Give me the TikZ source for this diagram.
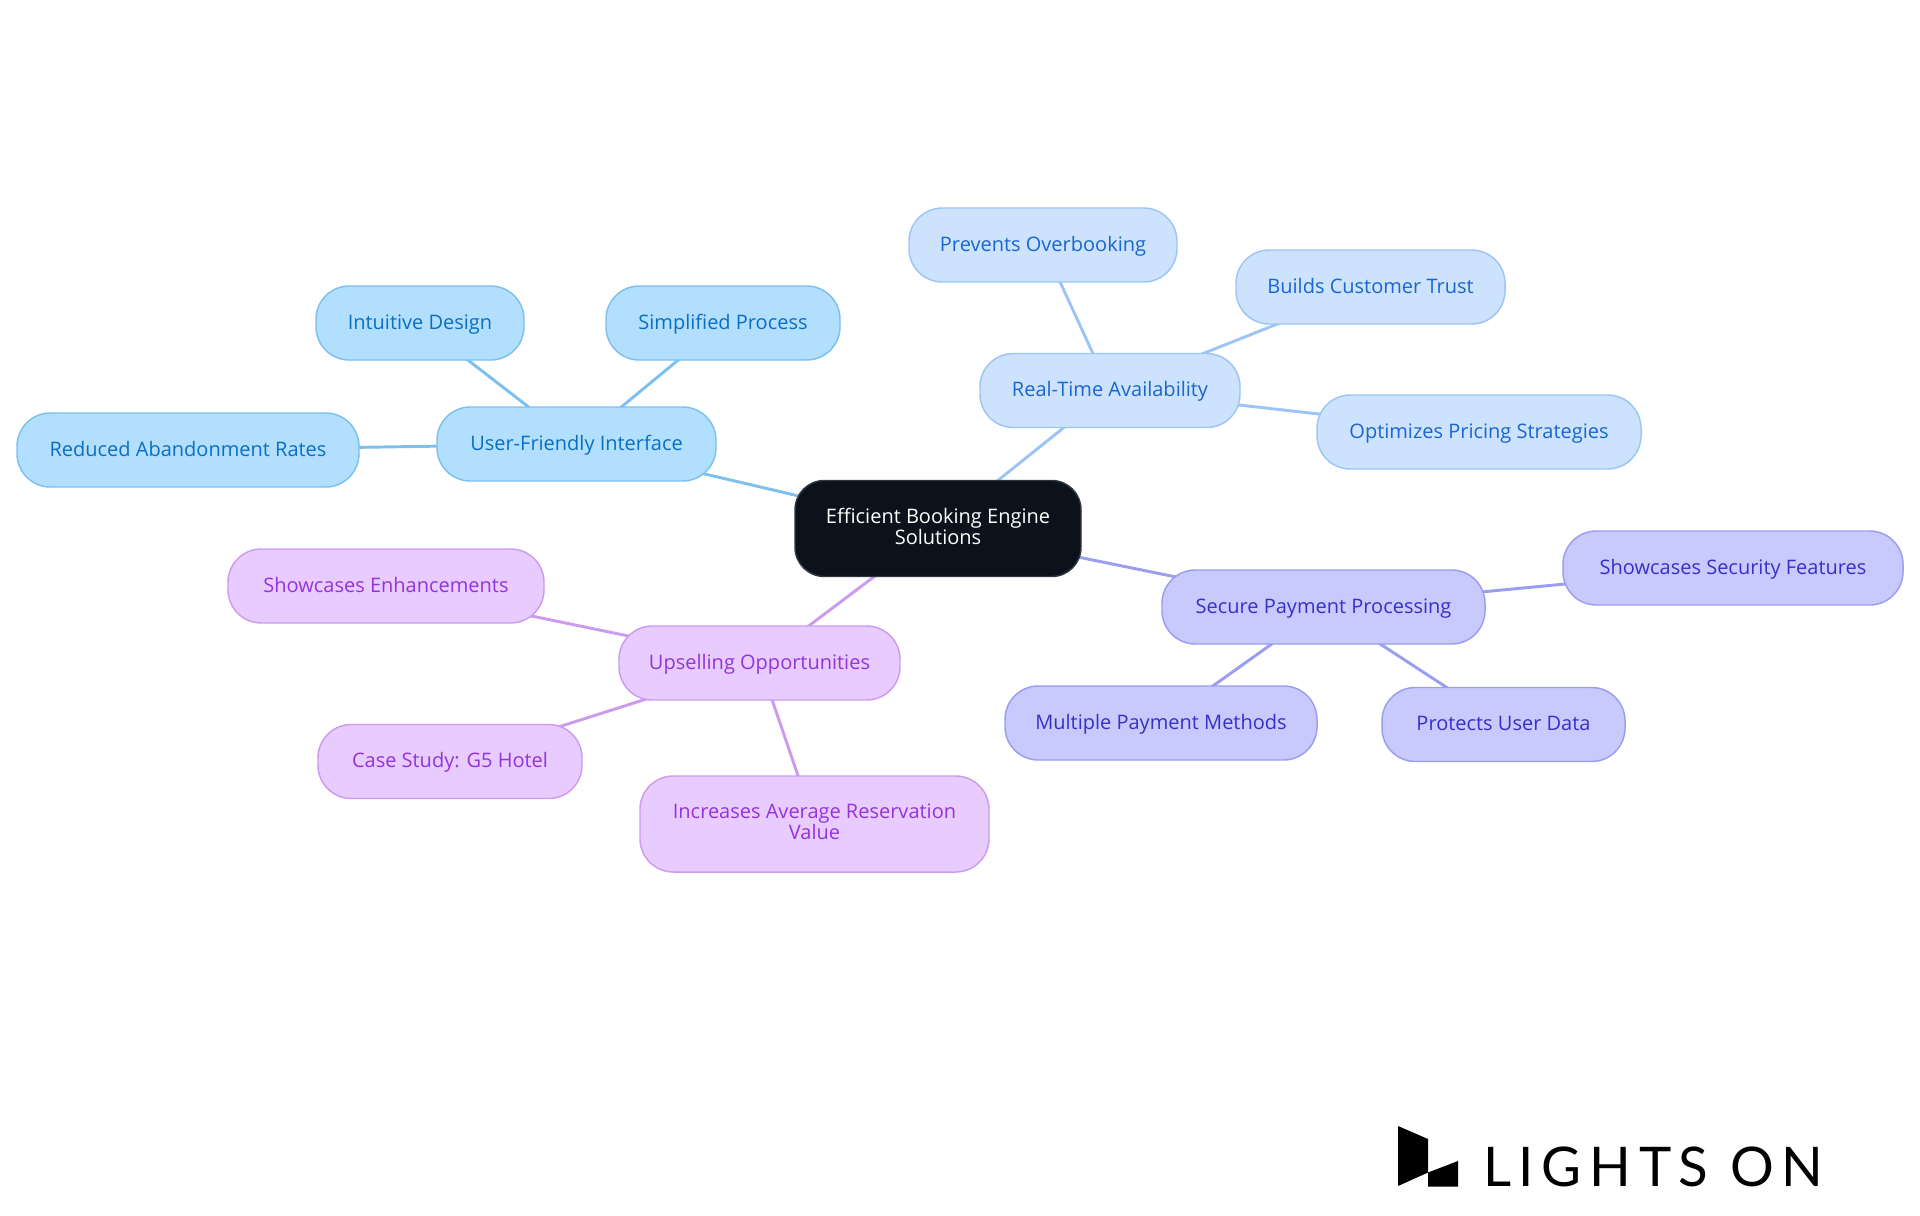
\documentclass[tikz,border=0pt]{standalone}
\usepackage{fontspec}
\usetikzlibrary{backgrounds}
\setmainfont{Open Sans}
\newfontfamily\logofont[LetterSpace=14]{Lato}
\definecolor{skyfill}{HTML}{B3DFFF}\definecolor{skyline}{HTML}{7CC0F0}\definecolor{skytext}{HTML}{0A6FC2}
\definecolor{bluefill}{HTML}{CDE3FD}\definecolor{blueline}{HTML}{9CC5F5}\definecolor{bluetext}{HTML}{1A66D0}
\definecolor{indfill}{HTML}{C8CAFE}\definecolor{indline}{HTML}{9A9DF2}\definecolor{indtext}{HTML}{3730C8}
\definecolor{purfill}{HTML}{E8CCFF}\definecolor{purline}{HTML}{CC9BF0}\definecolor{purtext}{HTML}{9333DD}
\definecolor{rootfill}{HTML}{0B121B}
\tikzset{
  box/.style={rounded corners=25pt,inner sep=0pt,outer sep=0pt,line width=1.1pt,align=center,
    font=\fontsize{15pt}{15.75pt}\selectfont,minimum height=55.5pt,text height=12.2pt,text depth=2.8pt},
  twolines/.style={minimum height=72pt,text height=,text depth=3.6pt},
  rootbox/.style={box,twolines,rounded corners=22pt,fill=rootfill,draw=rootfill!85!white,text=white},
  skybox/.style={box,fill=skyfill,draw=skyline,text=skytext},
  bluebox/.style={box,fill=bluefill,draw=blueline,text=bluetext},
  indbox/.style={box,fill=indfill,draw=indline,text=indtext},
  purbox/.style={box,fill=purfill,draw=purline,text=purtext},
  edge/.style={line width=2.2pt},
  w/.style={minimum width=#1*0.75pt},
}
\begin{document}
\begin{tikzpicture}[x=0.75pt,y=-0.75pt]
\useasboundingbox (0,0) rectangle (1920,1215);
\node[rootbox,w=286] (root) at (938,528.5) {Efficient Booking Engine\\Solutions};
\node[skybox,w=279] (uf) at (576.5,444) {User-Friendly Interface};
\node[skybox,w=208] (intu) at (420,323) {Intuitive Design};
\node[skybox,w=234] (simp) at (723,323) {Simplified Process};
\node[skybox,w=342] (redu) at (188,450) {Reduced Abandonment Rates};
\node[bluebox,w=260] (real) at (1110,390.5) {Real-Time Availability};
\node[bluebox,w=268] (prev) at (1043,245) {Prevents Overbooking};
\node[bluebox,w=269] (buil) at (1370.5,287) {Builds Customer Trust};
\node[bluebox,w=324] (opti) at (1479,432) {Optimizes Pricing Strategies};
\node[indbox,w=323] (secu) at (1323.5,607) {Secure Payment Processing};
\node[indbox,w=340] (shos) at (1733,568) {Showcases Security Features};
\node[indbox,w=312] (mult) at (1161,723) {Multiple Payment Methods};
\node[indbox,w=243] (prot) at (1503.5,724.5) {Protects User Data};
\node[purbox,w=281] (upse) at (759.5,663) {Upselling Opportunities};
\node[purbox,w=316] (shoe) at (386,586) {Showcases Enhancements};
\node[purbox,w=264] (case) at (450,761.5) {Case Study: G5 Hotel};
\node[purbox,twolines,w=349] (incr) at (814.5,824) {Increases Average Reservation\\Value};
\begin{scope}[on background layer]
\draw[edge,skyline] (root.center)--(uf.center) (uf.center)--(intu.center) (uf.center)--(simp.center) (uf.center)--(redu.center);
\draw[edge,blueline] (root.center)--(real.center) (real.center)--(prev.center) (real.center)--(buil.center) (real.center)--(opti.center);
\draw[edge,indline] (root.center)--(secu.center) (secu.center)--(shos.center) (secu.center)--(mult.center) (secu.center)--(prot.center);
\draw[edge,purline] (root.center)--(upse.center) (upse.center)--(shoe.center) (upse.center)--(case.center) (upse.center)--(incr.center);
\end{scope}
\fill[black] (1398,1126)--(1428,1139)--(1428,1172.5)--(1398,1186)--cycle;
\fill[black] (1428,1172.5)--(1458,1161)--(1458,1186.5)--(1428,1186.5)--cycle;
\node[inner sep=0pt,anchor=base west,font=\logofont\fontsize{41pt}{41pt}\selectfont] (logo) at (1483,1186.5) {LIGHTS ON};
\end{tikzpicture}
\end{document}
